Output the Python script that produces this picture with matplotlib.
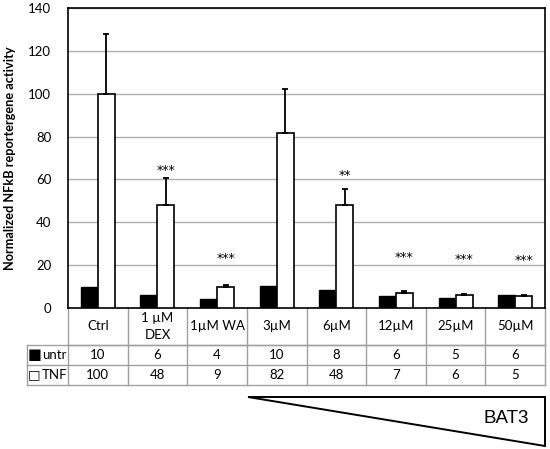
import numpy as np
import matplotlib.pyplot as plt
from matplotlib.patches import Polygon
import matplotlib.transforms as mtransforms

# valores
categorias = ['Ctrl', '1 µM\nDEX', '1µM WA', '3µM', '6µM', '12µM', '25µM', '50µM']
untr = [9.8, 5.9, 4.0, 10.4, 8.4, 5.7, 4.5, 6.2]
tnf = [99.9, 48.2, 9.6, 81.8, 48.2, 7.1, 5.9, 5.6]
tnf_err = [28.0, 12.3, 1.2, 20.5, 7.5, 0.7, 0.5, 0.5]
untr_txt = ['10', '6', '4', '10', '8', '6', '5', '6']
tnf_txt = ['100', '48', '9', '82', '48', '7', '6', '5']
estrellas = ['', '***', '***', '', '**', '***', '***', '***']
estrellas_y = [0, 64, 23, 0, 62, 23.6, 22.4, 22]

fuente = ['Lato', 'DejaVu Sans']
plt.rcParams['font.family'] = fuente

fig = plt.figure(figsize=(5.5, 4.49), dpi=100)
ax = fig.add_axes([68 / 550, 1 - 308 / 449, 477 / 550, 300 / 449])

x = np.arange(len(categorias))
w = 0.285
ax.bar(x - w / 2, untr, w, color='black', edgecolor='black', linewidth=1.0, zorder=3)
ax.bar(x + w / 2, tnf, w, color='white', edgecolor='black', linewidth=1.2, zorder=3)
ax.errorbar(x + w / 2, tnf, yerr=[np.zeros(len(tnf)), tnf_err], fmt='none',
            ecolor='black', elinewidth=1.3, capsize=2.5, capthick=1.3, zorder=4)

for xi, s, ys in zip(x, estrellas, estrellas_y):
    if s:
        ax.text(xi + w / 2, ys, s, ha='center', va='center', fontsize=9,
                family='DejaVu Sans')

ax.set_xlim(-0.5, len(categorias) - 0.5)
ax.set_ylim(0, 140)
ax.set_yticks(np.arange(0, 141, 20))
ax.set_xticks([])
ax.tick_params(axis='y', length=0, pad=12, labelsize=9.5)
ax.yaxis.grid(True, color='#b0b0b0', linewidth=1.0, zorder=0)
ax.set_axisbelow(True)
for sp in ax.spines.values():
    sp.set_linewidth(1.2)
ax.set_ylabel('Normalized NFkB reportergene activity', fontsize=9.2,
              fontweight='bold')
ax.yaxis.set_label_coords(-0.11, 0.5)

# tabla de datos debajo del grafico
trans = mtransforms.blended_transform_factory(ax.transData, ax.transAxes)
gris = '#a0a0a0'
filas = [0, -0.1233, -0.19, -0.2567]
izq = -1.193
n = len(categorias)
kw = dict(transform=trans, color=gris, lw=1.0, clip_on=False)
ax.plot([-0.5, n - 0.5], [filas[1]] * 2, **kw)
ax.plot([izq, n - 0.5], [filas[1]] * 2, **kw)
ax.plot([izq, n - 0.5], [filas[2]] * 2, **kw)
ax.plot([izq, n - 0.5], [filas[3]] * 2, **kw)
ax.plot([izq, izq], [filas[1], filas[3]], **kw)
for i in range(n + 1):
    ax.plot([i - 0.5, i - 0.5], [filas[0], filas[3]], **kw)

for i in range(n):
    ax.text(i, (filas[0] + filas[1]) / 2, categorias[i], transform=trans,
            ha='center', va='center', fontsize=9.5, linespacing=1.5)
    ax.text(i, (filas[1] + filas[2]) / 2, untr_txt[i], transform=trans,
            ha='center', va='center', fontsize=9.5)
    ax.text(i, (filas[2] + filas[3]) / 2, tnf_txt[i], transform=trans,
            ha='center', va='center', fontsize=9.5)

# leyenda dentro de la tabla
ax.text(-1.175, (filas[1] + filas[2]) / 2, '\u25a0', transform=trans,
        ha='left', va='center', fontsize=10.5, family='DejaVu Sans')
ax.text(-0.94, (filas[1] + filas[2]) / 2, 'untr', transform=trans,
        ha='left', va='center', fontsize=9.5)
ax.text(-1.175, (filas[2] + filas[3]) / 2, '\u25a1', transform=trans,
        ha='left', va='center', fontsize=9.5, family='DejaVu Sans',
        fontweight='bold')
ax.text(-0.94, (filas[2] + filas[3]) / 2, 'TNF', transform=trans,
        ha='left', va='center', fontsize=9.5)

# triangulo BAT3
tri = Polygon([[2.52, -0.297], [n - 0.5, -0.297], [n - 0.5, -0.46]], closed=True,
              facecolor='white', edgecolor='black', linewidth=1.4,
              transform=trans, clip_on=False)
ax.add_patch(tri)
ax.text(7.23, -0.367, 'BAT3', transform=trans, ha='right', va='center',
        fontsize=13.5, family='Liberation Sans')

fig.savefig('out.png', dpi=100)
